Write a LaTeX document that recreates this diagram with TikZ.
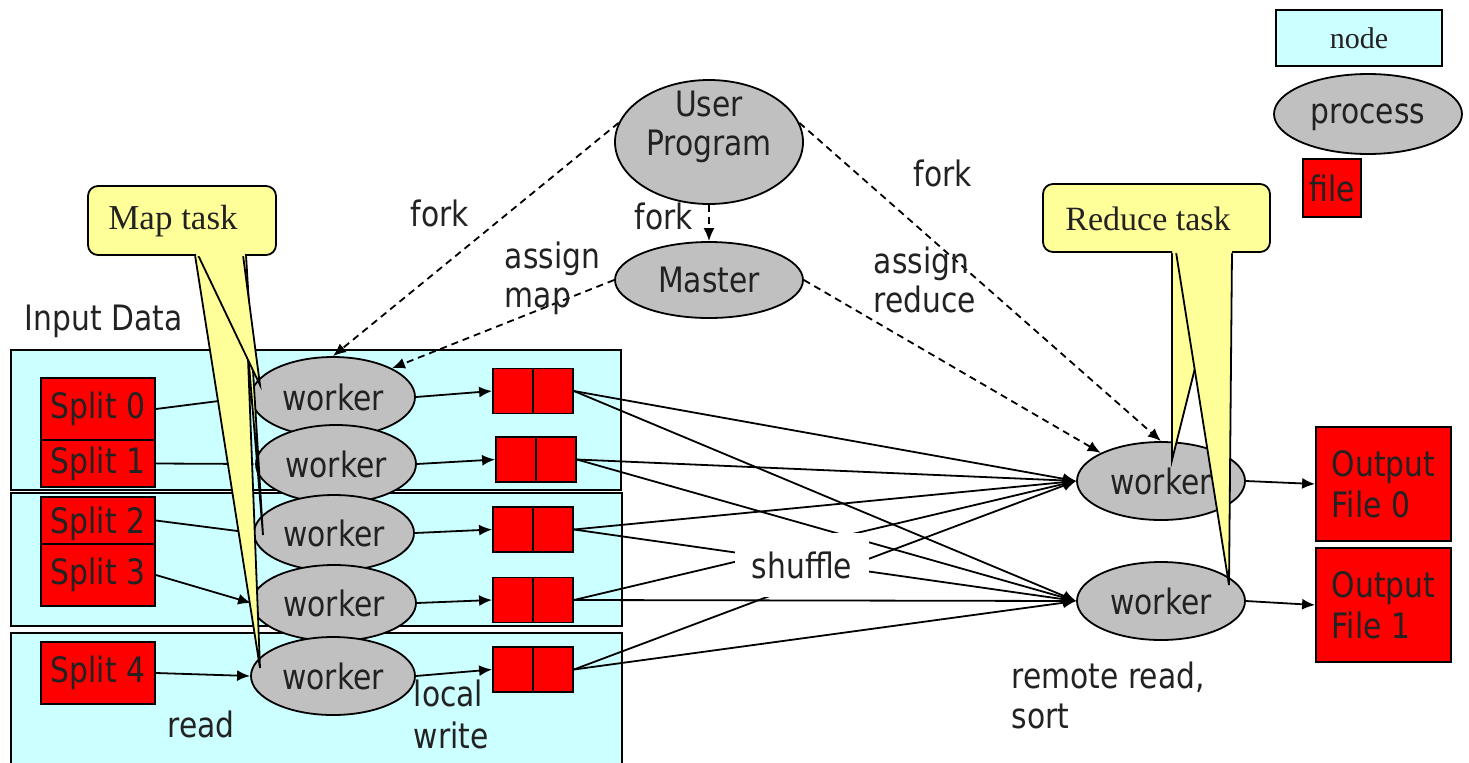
\documentclass[tikz,border=0pt]{standalone}
\usepackage{fontspec}
\setmainfont{DejaVu Sans}[FakeStretch=0.85]
\newfontfamily\seriffont{Liberation Serif}
\usetikzlibrary{shapes.geometric,arrows.meta}
\definecolor{cyanfill}{HTML}{CCFFFF}
\definecolor{grayfill}{HTML}{C0C0C0}
\definecolor{redfill}{HTML}{FF0000}
\definecolor{yellowfill}{HTML}{FFFF99}
\definecolor{txt}{HTML}{222222}
\tikzset{
  nodebox/.style={draw, fill=cyanfill, inner sep=0pt},
  proc/.style={ellipse, draw, fill=grayfill, inner sep=0pt, text=txt},
  filebox/.style={draw, fill=redfill, inner sep=0pt, text=txt},
  arr/.style={-{Latex[length=6.5pt,width=5.5pt]}},
  dsh/.style={dash pattern=on 3.5pt off 2.5pt},
  lbl/.style={inner sep=0pt, align=left, text=txt},
  yel/.style={fill=yellowfill},
}
\begin{document}
\begin{tikzpicture}[x=0.5pt,y=-0.5pt,line width=0.9pt,
  font=\fontsize{17.5}{19.5}\selectfont]
\useasboundingbox (0,0) rectangle (1469,762);

% cyan machine boxes
\node[nodebox, minimum width=305pt, minimum height=70pt] (box1) at (316,420) {};
\node[nodebox, minimum width=305.5pt, minimum height=66.5pt] (box2) at (316.5,559.5) {};
\node[nodebox, minimum width=305.5pt, minimum height=75pt] (box3) at (316.5,708) {};

% splits
\node[filebox, minimum width=57pt, minimum height=31pt] (s0) at (98,409) {Split 0};
\node[filebox, minimum width=57pt, minimum height=23.5pt] (s1) at (98,463.5) {Split 1};
\node[filebox, minimum width=57pt, minimum height=23.5pt, text depth=0pt] (s2) at (98,520.5) {Split 2};
\node[filebox, minimum width=57pt, minimum height=31pt] (s3) at (98,575) {Split 3};
\node[filebox, minimum width=57pt, minimum height=31pt] (s4) at (98,673) {Split 4};

% map workers
\node[proc, minimum width=82pt, minimum height=40pt] (w1) at (333,397) {worker};
\node[proc, minimum width=80pt, minimum height=39pt] (w2) at (336,464) {worker};
\node[proc, minimum width=80pt, minimum height=38pt] (w3) at (334,533) {worker};
\node[proc, minimum width=82pt, minimum height=38pt] (w4) at (334,603) {worker};
\node[proc, minimum width=82pt, minimum height=39pt] (w5) at (333,676) {worker};

% intermediate files
\foreach \n/\x/\y in {f1/533/391, f2/536/459.5, f3/533/529.5, f4/533/600, f5/533/669.5}{
  \node[filebox, minimum width=40pt, minimum height=22.5pt] (\n) at (\x,\y) {};
  \draw (\n.north) -- (\n.south);
}

% reduce workers
\node[proc, minimum width=84pt, minimum height=39pt] (r0) at (1161,481) {worker};
\node[proc, minimum width=84pt, minimum height=39pt] (r1) at (1161,601) {worker};

% output files
\node[filebox, minimum width=67.5pt, minimum height=57pt, align=left,
  font=\fontsize{17.5}{20.5}\selectfont] (o0) at (1383.5,484) {Output\\File 0};
\node[filebox, minimum width=67.5pt, minimum height=57pt, align=left,
  font=\fontsize{17.5}{20.5}\selectfont] (o1) at (1383.5,605) {Output\\File 1};

% user program & master
\node[proc, minimum width=94pt, minimum height=62pt,
  label={[align=center, yshift=7.5pt, text=txt]center:User\\Program}] (up) at (709,142) {};
\node[proc, minimum width=94pt, minimum height=38pt] (master) at (709,280) {Master};

% connectors: read
\foreach \s/\w in {s0/w1, s1/w2, s2/w3, s3/w4, s4/w5}
  \draw[arr] (\s.east) -- (\w.west);
% local write
\foreach \w/\f in {w1/f1, w2/f2, w3/f3, w4/f4, w5/f5}
  \draw[arr] (\w.east) -- (\f.west);
% shuffle
\foreach \f in {f1,f2,f3,f4,f5}{
  \draw[arr] (\f.east) -- (r0.west);
  \draw[arr] (\f.east) -- (r1.west);
}
% output write
\draw[arr] (r0.east) -- (o0.west);
\draw[arr] (r1.east) -- (o1.west);

% fork / assign
\draw[dsh, arr] (up.168) -- (w1.north);
\draw[dsh, arr] (master.west) -- (w1.26);
\draw[dsh, arr] (up.12) -- (r0.north);
\draw[dsh, arr] (master.east) -- (r0.155);
\draw[dsh, arr] (up.south) -- (master.north);

% labels
\node[lbl] (lfork1) at (440,213) {fork};
\node[lbl] (lfork2) at (664,216) {fork};
\node[lbl] (lfork3) at (943,173) {fork};
\node[lbl, anchor=west] (lassignmap) at (504,278) {assign\\map};
\node[lbl, anchor=west] (lassignred) at (873,280) {assign\\reduce};
\node[lbl, anchor=west] (linput) at (24,321) {Input Data};
\node[lbl] (lread) at (201,724) {read};
\node[lbl, anchor=west, font=\fontsize{17.5}{21}\selectfont] (llocal) at (413,714) {local\\write};
\node[lbl, anchor=west, font=\fontsize{17.5}{20}\selectfont] (lremote) at (1011,695) {remote read,\\sort};
\node[fill=white, inner sep=0pt, minimum width=67pt, minimum height=32pt, text=txt] (lshuffle) at (802,565) {shuffle};

% Map task callout
\fill[yel] (195,255) -- (260,668) -- (244,255) -- cycle;
\draw (195,255) -- (260,668) -- (244,255);
\fill[yel] (240,255) -- (263,535) -- (246,255) -- cycle;
\draw (240,255) -- (263,535) -- (246,255);
\fill[yel] (198,255) -- (260,385) -- (243,255) -- cycle;
\draw (198,255) -- (260,385) -- (243,255);
\fill[yel, rounded corners=5pt] (88,186) rectangle (276,256);
\draw[rounded corners=5pt] (196,255) -- (88,255) -- (88,186) -- (276,186) -- (276,255) -- (245,255);
\node[lbl, font=\seriffont\fontsize{17.5}{20}\selectfont] (lmaptask) at (173,221) {Map task};

% Reduce task callout
\fill[yel] (1172,252) -- (1172,460) -- (1224,252) -- cycle;
\draw (1172,252) -- (1172,460) -- (1224,252);
\fill[yel] (1176,252) -- (1229,585) -- (1232,252) -- cycle;
\draw (1176,252) -- (1229,585) -- (1232,252);
\fill[yel, rounded corners=5pt] (1043,184) rectangle (1270,253);
\draw[rounded corners=5pt] (1172,252) -- (1043,252) -- (1043,184) -- (1270,184) -- (1270,252) -- (1232,252);
\node[lbl, font=\seriffont\fontsize{17}{20}\selectfont] (lredtask) at (1148,219) {Reduce task};

% legend
\node[nodebox, minimum width=83pt, minimum height=28pt, text=txt,
  font=\seriffont\fontsize{15}{18}\selectfont] (legnode) at (1359,38) {node};
\node[proc, minimum width=94pt, minimum height=40pt, text depth=0pt] (legproc) at (1368,114) {process};
\node[filebox, minimum width=29pt, minimum height=29pt] (legfile) at (1332,188) {file};
\end{tikzpicture}
\end{document}
